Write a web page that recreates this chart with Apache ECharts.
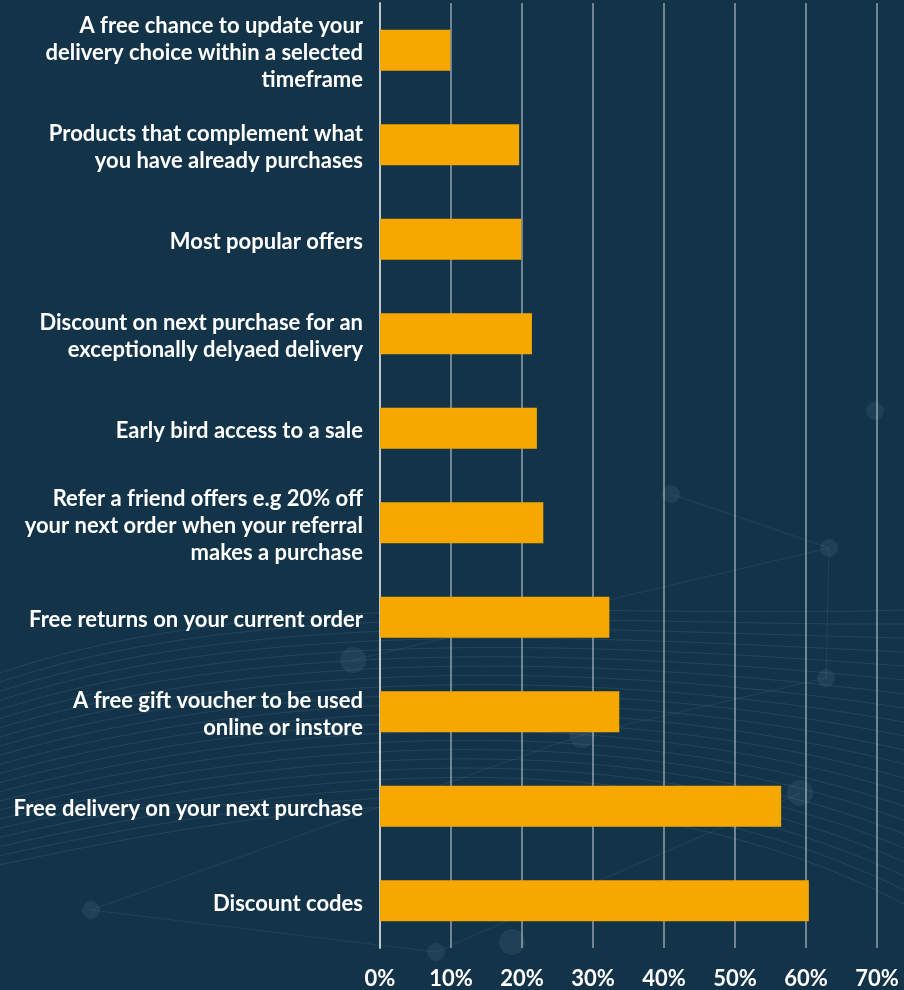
<!DOCTYPE html>
<html><head><meta charset="utf-8">
<script src="https://cdn.jsdelivr.net/npm/echarts@6/dist/echarts.min.js"></script>
<style>html,body{margin:0;padding:0;background:#133349;}#c{width:904px;height:990px;}</style>
</head><body><div id="c"></div>
<script>
const categories = [
  "A free chance to update your\ndelivery choice within a selected\ntimeframe",
  "Products that complement what\nyou have already purchases",
  "Most popular offers",
  "Discount on next purchase for an\nexceptionally delyaed delivery",
  "Early bird access to a sale",
  "Refer a friend offers e.g 20% off\nyour next order when your referral\nmakes a purchase",
  "Free returns on your current order",
  "A free gift voucher to be used\nonline or instore",
  "Free delivery on your next purchase",
  "Discount codes"
];
const values = [9.9, 19.6, 19.9, 21.4, 22.1, 23.0, 32.3, 33.7, 56.5, 60.4];
const ticks = [0, 10, 20, 30, 40, 50, 60, 70];

// decorative background: faint curved "network" lines
const deco = [];
for (let i = 0; i < 22; i++) {
  const y0 = 640 + i * 9;
  deco.push({
    type: 'bezierCurve', silent: true, z: -10,
    shape: {x1: -20, y1: y0 + 40, x2: 904, y2: 610 + i * 14, cpx1: 250, cpy1: y0 - 60 + i * 2, cpx2: 600, cpy2: 620 + i * 6},
    style: {stroke: 'rgba(120,160,185,0.16)', lineWidth: 1, fill: null}
  });
}
const nodes = [[353,660],[829,548],[826,678],[800,793],[91,910],[436,952],[582,735],[875,411],[671,494],[512,942]];
nodes.forEach(([x, y], k) => {
  deco.push({type: 'circle', silent: true, z: -10, shape: {cx: x, cy: y, r: k % 3 === 0 ? 13 : 9},
    style: {fill: 'rgba(110,140,160,0.15)'}});
});
[[353,660,829,548],[829,548,826,678],[826,678,582,735],[91,910,436,952],[436,952,800,793],[671,494,829,548],[582,735,91,910]].forEach(p => {
  deco.push({type: 'line', silent: true, z: -10, shape: {x1: p[0], y1: p[1], x2: p[2], y2: p[3]},
    style: {stroke: 'rgba(110,150,175,0.14)', lineWidth: 1}});
});

const chart = echarts.init(document.getElementById('c'));
chart.setOption({
  backgroundColor: '#133349',
  animation: false,
  graphic: {elements: deco},
  grid: {left: 380, right: 27, top: 3, bottom: 40, containLabel: false},
  xAxis: {
    type: 'value', min: 0, max: 70, interval: 10,
    axisLine: {show: false}, axisTick: {show: false},
    splitLine: {show: true, lineStyle: {color: 'rgba(190,196,202,0.75)', width: 1.5}},
    axisLabel: {color: '#ffffff', fontFamily: 'Lato', fontWeight: 'bold', fontSize: 22, margin: 20,
      formatter: v => v + '%'}
  },
  yAxis: {
    type: 'category', inverse: true, data: categories,
    axisLine: {show: true, lineStyle: {color: 'rgba(200,205,210,0.9)', width: 2}},
    axisTick: {show: false},
    axisLabel: {show: false}
  },
  series: [{
    type: 'bar', data: values, barWidth: 41,
    itemStyle: {color: '#f7a800'},
    label: {
      show: true, position: 'left', distance: 17, offset: [0, 3],
      formatter: p => p.name,
      color: '#ffffff', fontFamily: 'Lato', fontWeight: 'bold', fontSize: 22, lineHeight: 27, align: 'right'
    }
  }]
});
</script></body></html>
